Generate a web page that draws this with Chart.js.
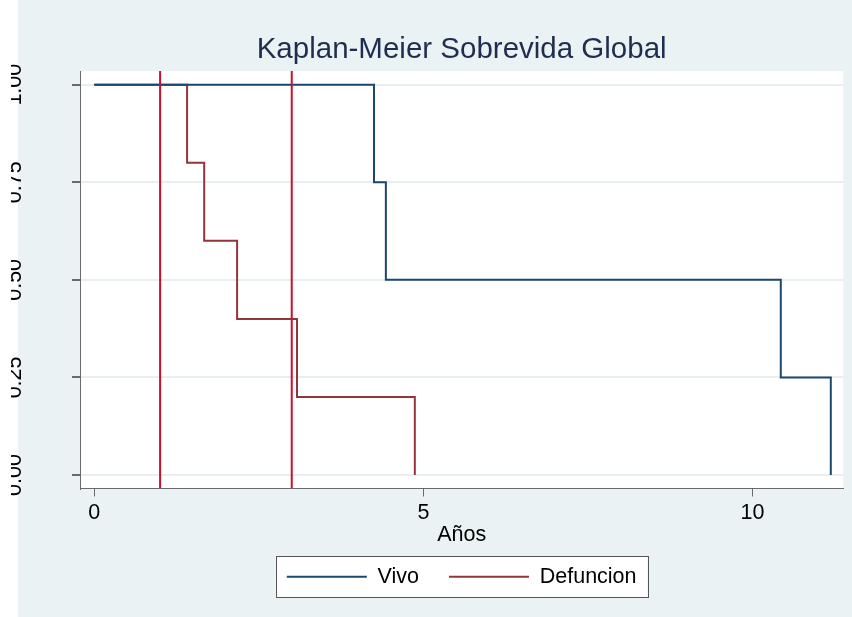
<!DOCTYPE html>
<html>
<head>
<meta charset="utf-8">
<script src="https://cdn.jsdelivr.net/npm/chart.js@4"></script>
<style>
  body { margin: 0; background: #ffffff; }
  #wrap { width: 852px; height: 617px; }
</style>
</head>
<body>
<div id="wrap"><canvas id="km" width="852" height="617"></canvas></div>
<script>
// Curvas Kaplan-Meier (tiempo en años, sobrevida)
const tiempoVivo = [0, 4.25, 4.43, 10.43, 11.19];
const sobrevVivo = [1, 0.75, 0.5, 0.25, 0];
const tiempoDef = [0, 1.41, 1.67, 2.17, 3.08, 4.87];
const sobrevDef = [1, 0.8, 0.6, 0.4, 0.2, 0];
const lineasX = [1, 3];
const seriesNombres = ['Vivo', 'Defuncion'];
const xTicks = [0, 5, 10];
const yTicks = [0, 0.25, 0.5, 0.75, 1];

const X_MIN = -0.217, X_MAX = 11.38;
const Y_MIN = -0.0345, Y_MAX = 1.035;

const FONT = "'Liberation Sans', Arial, sans-serif";
const fondo = '#EAF2F3';
const azul = '#1A476F';
const granate = '#90353B';
const rojo = '#C8102E';
const ejeColor = '#6A6A6A';

function puntos(xs, ys) {
    return xs.map((x, i) => ({ x: x, y: ys[i] }));
}

// Fondo, area de grafico blanca y caja de leyenda
const fondoPlugin = {
    id: 'fondo',
    afterLayout(chart) {
        // centrar titulo y leyenda sobre el area del grafico (como Stata)
        const a = chart.chartArea;
        const cx = (a.left + a.right) / 2;
        [chart.legend, chart.titleBlock].forEach(b => {
            if (!b) return;
            b.right = chart.width;
            b.left = 2 * cx - chart.width;
            b.width = b.right - b.left;
        });
    },
    beforeDraw(chart) {
        const ctx = chart.ctx;
        const a = chart.chartArea;
        ctx.save();
        ctx.fillStyle = '#ffffff';
        ctx.fillRect(0, 0, chart.width, chart.height);
        ctx.fillStyle = fondo;
        ctx.fillRect(18, 0, chart.width - 18, chart.height);
        ctx.fillStyle = '#ffffff';
        ctx.fillRect(a.left, a.top, a.right - a.left, a.bottom - a.top);

        const hb = chart.legend.legendHitBoxes;
        if (hb && hb.length) {
            const first = hb[0], last = hb[hb.length - 1];
            const cy = first.top + first.height / 2;
            const x0 = first.left - 11;
            const x1 = last.left + last.width + 11;
            ctx.fillStyle = '#ffffff';
            ctx.fillRect(x0, cy - 20.5, x1 - x0, 41);
            ctx.strokeStyle = '#555555';
            ctx.lineWidth = 1;
            ctx.strokeRect(Math.round(x0) + 0.5, Math.round(cy - 20.5) + 0.5, Math.round(x1 - x0), 41);
        }
        ctx.restore();
    }
};

const datasets = [];
lineasX.forEach(v => {
    datasets.push({
        label: 'xline',
        data: [{ x: v, y: Y_MIN }, { x: v, y: Y_MAX }],
        borderColor: rojo,
        backgroundColor: rojo,
        borderWidth: 2,
        pointRadius: 0
    });
});
datasets.push({
    label: seriesNombres[0],
    data: puntos(tiempoVivo, sobrevVivo),
    stepped: 'before',
    borderColor: azul,
    backgroundColor: azul,
    borderWidth: 2,
    pointRadius: 0
});
datasets.push({
    label: seriesNombres[1],
    data: puntos(tiempoDef, sobrevDef),
    stepped: 'before',
    borderColor: granate,
    backgroundColor: granate,
    borderWidth: 2,
    pointRadius: 0
});

new Chart(document.getElementById('km'), {
    type: 'line',
    data: { datasets: datasets },
    plugins: [fondoPlugin],
    options: {
        responsive: false,
        animation: false,
        // el borde izquierdo recorta las etiquetas del eje y, como en la imagen original
        layout: { padding: { left: 11, right: 8.7, top: 0, bottom: 19.5 } },
        plugins: {
            tooltip: { enabled: false },
            title: {
                display: true,
                text: 'Kaplan-Meier Sobrevida Global',
                color: '#1F2D50',
                font: { family: FONT, size: 29.5, weight: 'normal', lineHeight: 1.2 },
                padding: { top: 32, bottom: 3.6 }
            },
            legend: {
                position: 'bottom',
                labels: {
                    filter: item => item.text !== 'xline',
                    usePointStyle: true,
                    pointStyle: 'line',
                    pointStyleWidth: 80,
                    boxHeight: 21.5,
                    padding: 30,
                    color: '#000000',
                    font: { family: FONT, size: 21.5 }
                }
            }
        },
        scales: {
            x: {
                type: 'linear',
                min: X_MIN,
                max: X_MAX,
                afterBuildTicks: s => { s.ticks = xTicks.map(v => ({ value: v })); },
                afterFit: s => { s.height = 47.5; },
                ticks: {
                    color: '#000000',
                    padding: 4,
                    maxRotation: 0,
                    font: { family: FONT, size: 21.5 }
                },
                grid: {
                    drawOnChartArea: false,
                    drawTicks: true,
                    tickLength: 8,
                    tickColor: ejeColor
                },
                border: { display: true, color: ejeColor, width: 1 },
                title: {
                    display: true,
                    text: 'Años',
                    color: '#000000',
                    font: { family: FONT, size: 21.5, lineHeight: 0.1 },
                    padding: { top: 0, bottom: 0 }
                }
            },
            y: {
                type: 'linear',
                min: Y_MIN,
                max: Y_MAX,
                afterBuildTicks: s => { s.ticks = yTicks.map(v => ({ value: v })); },
                afterFit: s => { s.width = 69; },
                ticks: {
                    color: '#000000',
                    minRotation: 90,
                    maxRotation: 90,
                    crossAlign: 'center',
                    padding: 36,
                    font: { family: FONT, size: 21.5 },
                    callback: v => Number(v).toFixed(2)
                },
                grid: {
                    color: '#E8EFF1',
                    lineWidth: 2,
                    drawTicks: true,
                    tickLength: 8,
                    tickColor: ejeColor
                },
                border: { display: true, color: ejeColor, width: 1 }
            }
        }
    }
});
</script>
</body>
</html>
